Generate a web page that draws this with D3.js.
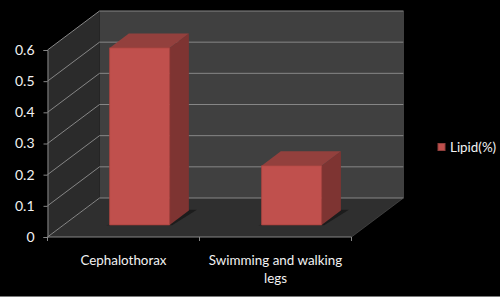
<!DOCTYPE html>
<html>
<head>
<meta charset="utf-8">
<script src="https://cdn.jsdelivr.net/npm/d3@7"></script>
<style>
  html, body { margin: 0; padding: 0; background: #000; }
  svg { display: block; }
  text { font-family: Lato, "Open Sans", sans-serif; fill: #f2f2f2; }
</style>
</head>
<body>
<svg id="chart" width="500" height="297"></svg>
<script>
const categories = ["Cephalothorax", "Swimming and walking legs"];
const lipid = [0.568, 0.19];
const yTicks = [0, 0.1, 0.2, 0.3, 0.4, 0.5, 0.6];
const seriesName = "Lipid(%)";

const svg = d3.select("#chart");
const width = 500;
const height = 297;

const x = d3.scaleBand()
  .domain(categories)
  .range([47.5, 351.5])
  .paddingInner(0.605)
  .paddingOuter(0.3025);
const xEdge = d3.scaleLinear().domain([0, categories.length]).range([47.5, 351.5]);
const y = d3.scaleLinear().domain([0, 0.6]).range([237, 50]);

// depth goes 0 (front of the floor) to 1 (back wall)
const depthX = d3.scaleLinear().domain([0, 1]).range([0, 52]);
const depthY = d3.scaleLinear().domain([0, 1]).range([0, -39]);
const project = (px, value, depth) => [px + depthX(depth), y(value) + depthY(depth)];
const poly = pts => pts.join(" ");

const barFront = 0.31;
const barBack = 0.68;

svg.append("rect").attr("width", width).attr("height", height).attr("fill", "#000");
svg.append("line")
  .attr("x1", 0).attr("x2", width)
  .attr("y1", height - 0.5).attr("y2", height - 0.5)
  .attr("stroke", "#7a7a7a");

const [x0, x1] = x.range();

// walls and floor
svg.append("polygon")
  .attr("points", poly([project(x0, 0, 1), project(x1, 0, 1), project(x1, 0.6, 1), project(x0, 0.6, 1)]))
  .attr("fill", "#404040");
svg.append("polygon")
  .attr("points", poly([project(x0, 0, 0), project(x0, 0, 1), project(x0, 0.6, 1), project(x0, 0.6, 0)]))
  .attr("fill", "#2b2b2b");
svg.append("polygon")
  .attr("points", poly([project(x0, 0, 0), project(x1, 0, 0), project(x1, 0, 1), project(x0, 0, 1)]))
  .attr("fill", "#2f2f2f");

// gridlines run along the side wall then the back wall
svg.append("g").selectAll("polyline")
  .data(yTicks)
  .join("polyline")
  .attr("points", d => poly([project(x0, d, 0), project(x0, d, 1), project(x1, d, 1)]))
  .attr("fill", "none")
  .attr("stroke", "#868686")
  .attr("stroke-width", 1);
svg.append("polyline")
  .attr("points", poly([project(x1, 0.6, 1), project(x1, 0, 1), project(x1, 0, 0)]))
  .attr("fill", "none")
  .attr("stroke", "#555")
  .attr("stroke-width", 0.6);

// axes
const yAxis = svg.append("g")
  .attr("transform", `translate(${x0},0)`)
  .call(d3.axisLeft(y).tickValues(yTicks).tickSize(4).tickPadding(9).tickFormat(d => d === 0 ? "0" : d3.format(".1f")(d)));
yAxis.selectAll("path, line").attr("stroke", "#868686");
yAxis.selectAll("text").style("font-size", "14px").attr("fill", "#f2f2f2");

svg.append("g").selectAll("line")
  .data(d3.range(categories.length + 1))
  .join("line")
  .attr("x1", d => xEdge(d)).attr("x2", d => xEdge(d))
  .attr("y1", y(0)).attr("y2", y(0) + 4)
  .attr("stroke", "#868686");
svg.append("line")
  .attr("x1", x0).attr("x2", x1)
  .attr("y1", y(0)).attr("y2", y(0))
  .attr("stroke", "#868686");

// bars
const bars = svg.append("g").selectAll("g")
  .data(categories.map((c, i) => ({ c, v: lipid[i] })))
  .join("g");

bars.append("polygon")
  .attr("points", d => poly([
    project(x(d.c) - 3, 0, barFront - 0.01),
    project(x(d.c) + x.bandwidth() + 3, 0, barFront - 0.01),
    project(x(d.c) + x.bandwidth() + 7, 0, barBack + 0.02),
    project(x(d.c) + x.bandwidth() - 2, 0, barBack + 0.02)
  ]))
  .attr("fill", "#1c1c1c");

bars.append("polygon")
  .attr("points", d => poly([
    project(x(d.c) + x.bandwidth(), 0, barFront),
    project(x(d.c) + x.bandwidth(), 0, barBack),
    project(x(d.c) + x.bandwidth(), d.v, barBack),
    project(x(d.c) + x.bandwidth(), d.v, barFront)
  ]))
  .attr("fill", "#7e3432");

bars.append("polygon")
  .attr("points", d => poly([
    project(x(d.c), d.v, barFront),
    project(x(d.c) + x.bandwidth(), d.v, barFront),
    project(x(d.c) + x.bandwidth(), d.v, barBack),
    project(x(d.c), d.v, barBack)
  ]))
  .attr("fill", "#93403d");

bars.append("polygon")
  .attr("points", d => poly([
    project(x(d.c), 0, barFront),
    project(x(d.c) + x.bandwidth(), 0, barFront),
    project(x(d.c) + x.bandwidth(), d.v, barFront),
    project(x(d.c), d.v, barFront)
  ]))
  .attr("fill", "#c0504d")
  .attr("stroke", "#a8423f")
  .attr("stroke-width", 0.8);

// category labels
const xLabels = svg.append("g").selectAll("text")
  .data(categories)
  .join("text")
  .attr("x", (d, i) => (xEdge(i) + xEdge(i + 1)) / 2)
  .attr("y", 265)
  .attr("text-anchor", "middle")
  .style("font-size", "13.4px");
xLabels.filter(d => d.length <= 20).text(d => d);
xLabels.filter(d => d.length > 20).each(function(d) {
  const words = d.split(" ");
  const el = d3.select(this);
  const cx = el.attr("x");
  el.append("tspan").attr("x", cx).text(words.slice(0, -1).join(" "));
  el.append("tspan").attr("x", cx).attr("dy", 18).text(words[words.length - 1]);
});

// legend
svg.append("rect")
  .attr("x", 438).attr("y", 143.5).attr("width", 7).attr("height", 7)
  .attr("fill", "#c0504d").attr("stroke", "#8f3f3c");
svg.append("text")
  .attr("x", 450).attr("y", 152)
  .style("font-size", "13.4px")
  .text(seriesName);
</script>
</body>
</html>
